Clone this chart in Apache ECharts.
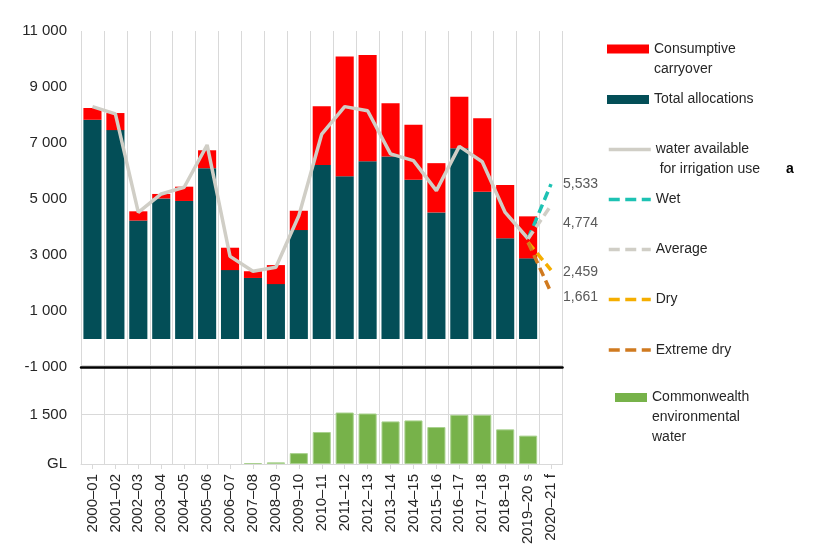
<!DOCTYPE html>
<html><head><meta charset="utf-8">
<script src="https://cdn.jsdelivr.net/npm/echarts@6/dist/echarts.min.js"></script>
<style>html,body{margin:0;padding:0;background:#fff}#c{width:815px;height:559px}</style>
</head><body><div id="c"></div>
<script>
const categories = ['2000–01','2001–02','2002–03','2003–04','2004–05','2005–06','2006–07','2007–08','2008–09','2009–10','2010–11','2011–12','2012–13','2013–14','2014–15','2015–16','2016–17','2017–18','2018–19','2019–20 s','2020–21 f'];
const totalAllocations = [7830,7460,4230,5020,4930,6100,2460,2180,1960,3890,6210,5810,6350,6520,5690,4520,6810,5260,3600,2880,null];
const consumptiveCarryover = [420,610,330,160,510,640,800,240,680,690,2100,4280,3790,1900,1960,1760,1840,2620,1900,1500,null];
const waterAvailable = [8300,8040,4520,5180,5420,6930,2950,2420,2560,4400,7320,8300,8150,6610,6370,5300,6880,6330,4520,3580,null];
const wetScenario = [null,null,null,null,null,null,null,null,null,null,null,null,null,null,null,null,null,null,null,3580,5533];
const averageScenario = [null,null,null,null,null,null,null,null,null,null,null,null,null,null,null,null,null,null,null,3580,4774];
const dryScenario = [null,null,null,null,null,null,null,null,null,null,null,null,null,null,null,null,null,null,null,3450,2459];
const extremeDryScenario = [null,null,null,null,null,null,null,null,null,null,null,null,null,null,null,null,null,null,null,3450,1661];
const commonwealthWater = [null,null,null,null,null,null,null,30,50,330,970,1560,1530,1290,1320,1120,1490,1490,1050,860,null];
const topTicks = {min:-1000, max:11000, interval:2000};
const bottomTicks = {min:0, max:3000, interval:1500};

const FF = "'Liberation Sans', Arial, sans-serif";
const TXT = '#262626';
const C = {alloc:'#034E57', carry:'#FF0000', avail:'#D0CEC6', wet:'#1DC2B3', avg:'#D0CEC6', dry:'#F5AE00', xdry:'#D07A1F', green:'#77B24A'};
const spaceFmt = v => String(v).replace(/\B(?=(\d{3})+(?!\d))/g, ' ');
const commaFmt = v => String(v).replace(/\B(?=(\d{3})+(?!\d))/g, ',');

function dashedLine(name, data, color, dy) {
  return {name, type: 'line', xAxisIndex: 0, yAxisIndex: 0, data, symbol: 'none', connectNulls: false,
    lineStyle: {color, width: 3.5, type: [9, 5]}, itemStyle: {color}, z: 5,
    endLabel: {show: true, distance: 12, offset: [0, dy], formatter: p => commaFmt(p.value), color: '#595959', fontSize: 14, fontFamily: FF}};
}
const baseText = {fontSize: 14, color: TXT, fontFamily: FF, lineHeight: 20};
function leg(name, cy, extra) {
  const lines = extra && extra.lines || 1;
  const offset = lines === 1 ? 10 : (lines === 2 ? 30 : 50);
  return Object.assign({
    data: [name], left: 607, top: cy - offset, padding: 0, itemWidth: 42, itemHeight: 9, selectedMode: false,
    textStyle: Object.assign({}, baseText)
  }, extra && extra.opt || {});
}
const dashLegend = {lineStyle: {type: [11, 5.5], width: 3.5}, itemStyle: {opacity: 0}};

const option = {
  animation: false,
  backgroundColor: '#fff',
  textStyle: {fontFamily: FF},
  grid: [
    {left: 81, right: 252.5, top: 31, bottom: 192},
    {left: 81, right: 252.5, top: 365, bottom: 95}
  ],
  legend: [
    leg('Consumptive carryover', 49, {lines: 2, opt: {icon: 'rect', formatter: '\nConsumptive\ncarryover'}}),
    leg('Total allocations', 99.5, {opt: {icon: 'rect'}}),
    leg('water available for irrigation use', 149.5, {lines: 2, opt: {
      formatter: '\nwater available\n for irrigation use{a|a}',
      lineStyle: {width: 3.5}, itemStyle: {opacity: 0},
      textStyle: Object.assign({}, baseText, {rich: {a: {fontWeight: 'bold', fontSize: 14, color: '#000', fontFamily: FF, padding: [0, 0, 0, 26]}}})
    }}),
    leg('Wet', 199.5, {opt: dashLegend}),
    leg('Average', 249.5, {opt: dashLegend}),
    leg('Dry', 299.5, {opt: dashLegend}),
    leg('Extreme dry', 350, {opt: dashLegend}),
    Object.assign(leg('Commonwealth environmental water', 397.5, {lines: 3, opt: {icon: 'rect', formatter: '\n\nCommonwealth\nenvironmental\nwater', itemStyle: {borderWidth: 0}}}), {left: 615, itemWidth: 32})
  ],
  xAxis: [
    {type: 'category', gridIndex: 0, data: categories, boundaryGap: true, position: 'bottom',
      axisLine: {show: true, onZero: false, lineStyle: {color: '#000', width: 2.5}},
      axisTick: {show: false}, axisLabel: {show: false, interval: 0},
      splitLine: {show: true, interval: 0, lineStyle: {color: '#D9D9D9', width: 1}}},
    {type: 'category', gridIndex: 1, data: categories, boundaryGap: true,
      axisLine: {show: true, lineStyle: {color: '#D9D9D9', width: 1}},
      axisTick: {show: true, alignWithLabel: true, interval: 0, length: 5, lineStyle: {color: '#D9D9D9'}},
      axisLabel: {rotate: 90, fontSize: 15, color: TXT, fontFamily: FF, margin: 10, interval: 0},
      splitLine: {show: true, interval: 0, lineStyle: {color: '#D9D9D9', width: 1}}}
  ],
  yAxis: [
    {type: 'value', gridIndex: 0, min: topTicks.min, max: topTicks.max, interval: topTicks.interval,
      axisLine: {show: false}, axisTick: {show: false}, splitLine: {show: false},
      axisLabel: {fontSize: 15, color: TXT, fontFamily: FF, margin: 14, formatter: spaceFmt}},
    {type: 'value', gridIndex: 1, min: bottomTicks.min, max: bottomTicks.max, interval: bottomTicks.interval,
      axisLine: {show: false}, axisTick: {show: false},
      splitLine: {show: true, lineStyle: {color: '#D9D9D9', width: 1}},
      axisLabel: {fontSize: 15, color: TXT, fontFamily: FF, margin: 14, formatter: v => v === 0 ? 'GL' : (v === 3000 ? '' : spaceFmt(v))}}
  ],
  series: [
    {name: 'Total allocations', type: 'bar', stack: 'water', xAxisIndex: 0, yAxisIndex: 0, data: totalAllocations, barCategoryGap: '21%', itemStyle: {color: C.alloc}},
    {name: 'Consumptive carryover', type: 'bar', stack: 'water', xAxisIndex: 0, yAxisIndex: 0, data: consumptiveCarryover, barCategoryGap: '21%', itemStyle: {color: C.carry}},
    {name: 'water available for irrigation use', type: 'line', xAxisIndex: 0, yAxisIndex: 0, data: waterAvailable, symbol: 'none', lineStyle: {color: C.avail, width: 3.5}, itemStyle: {color: C.avail}, z: 4},
    dashedLine('Wet', wetScenario, C.wet, 0),
    dashedLine('Average', averageScenario, C.avg, 18),
    dashedLine('Dry', dryScenario, C.dry, 2),
    dashedLine('Extreme dry', extremeDryScenario, C.xdry, 5),
    {name: 'Commonwealth environmental water', type: 'bar', xAxisIndex: 1, yAxisIndex: 1, data: commonwealthWater, barCategoryGap: '21%', itemStyle: {color: C.green, borderColor: '#A9D18E', borderWidth: 1}}
  ]
};
const chart = echarts.init(document.getElementById('c'), null, {renderer: 'canvas'});
chart.setOption(option);
</script></body></html>
